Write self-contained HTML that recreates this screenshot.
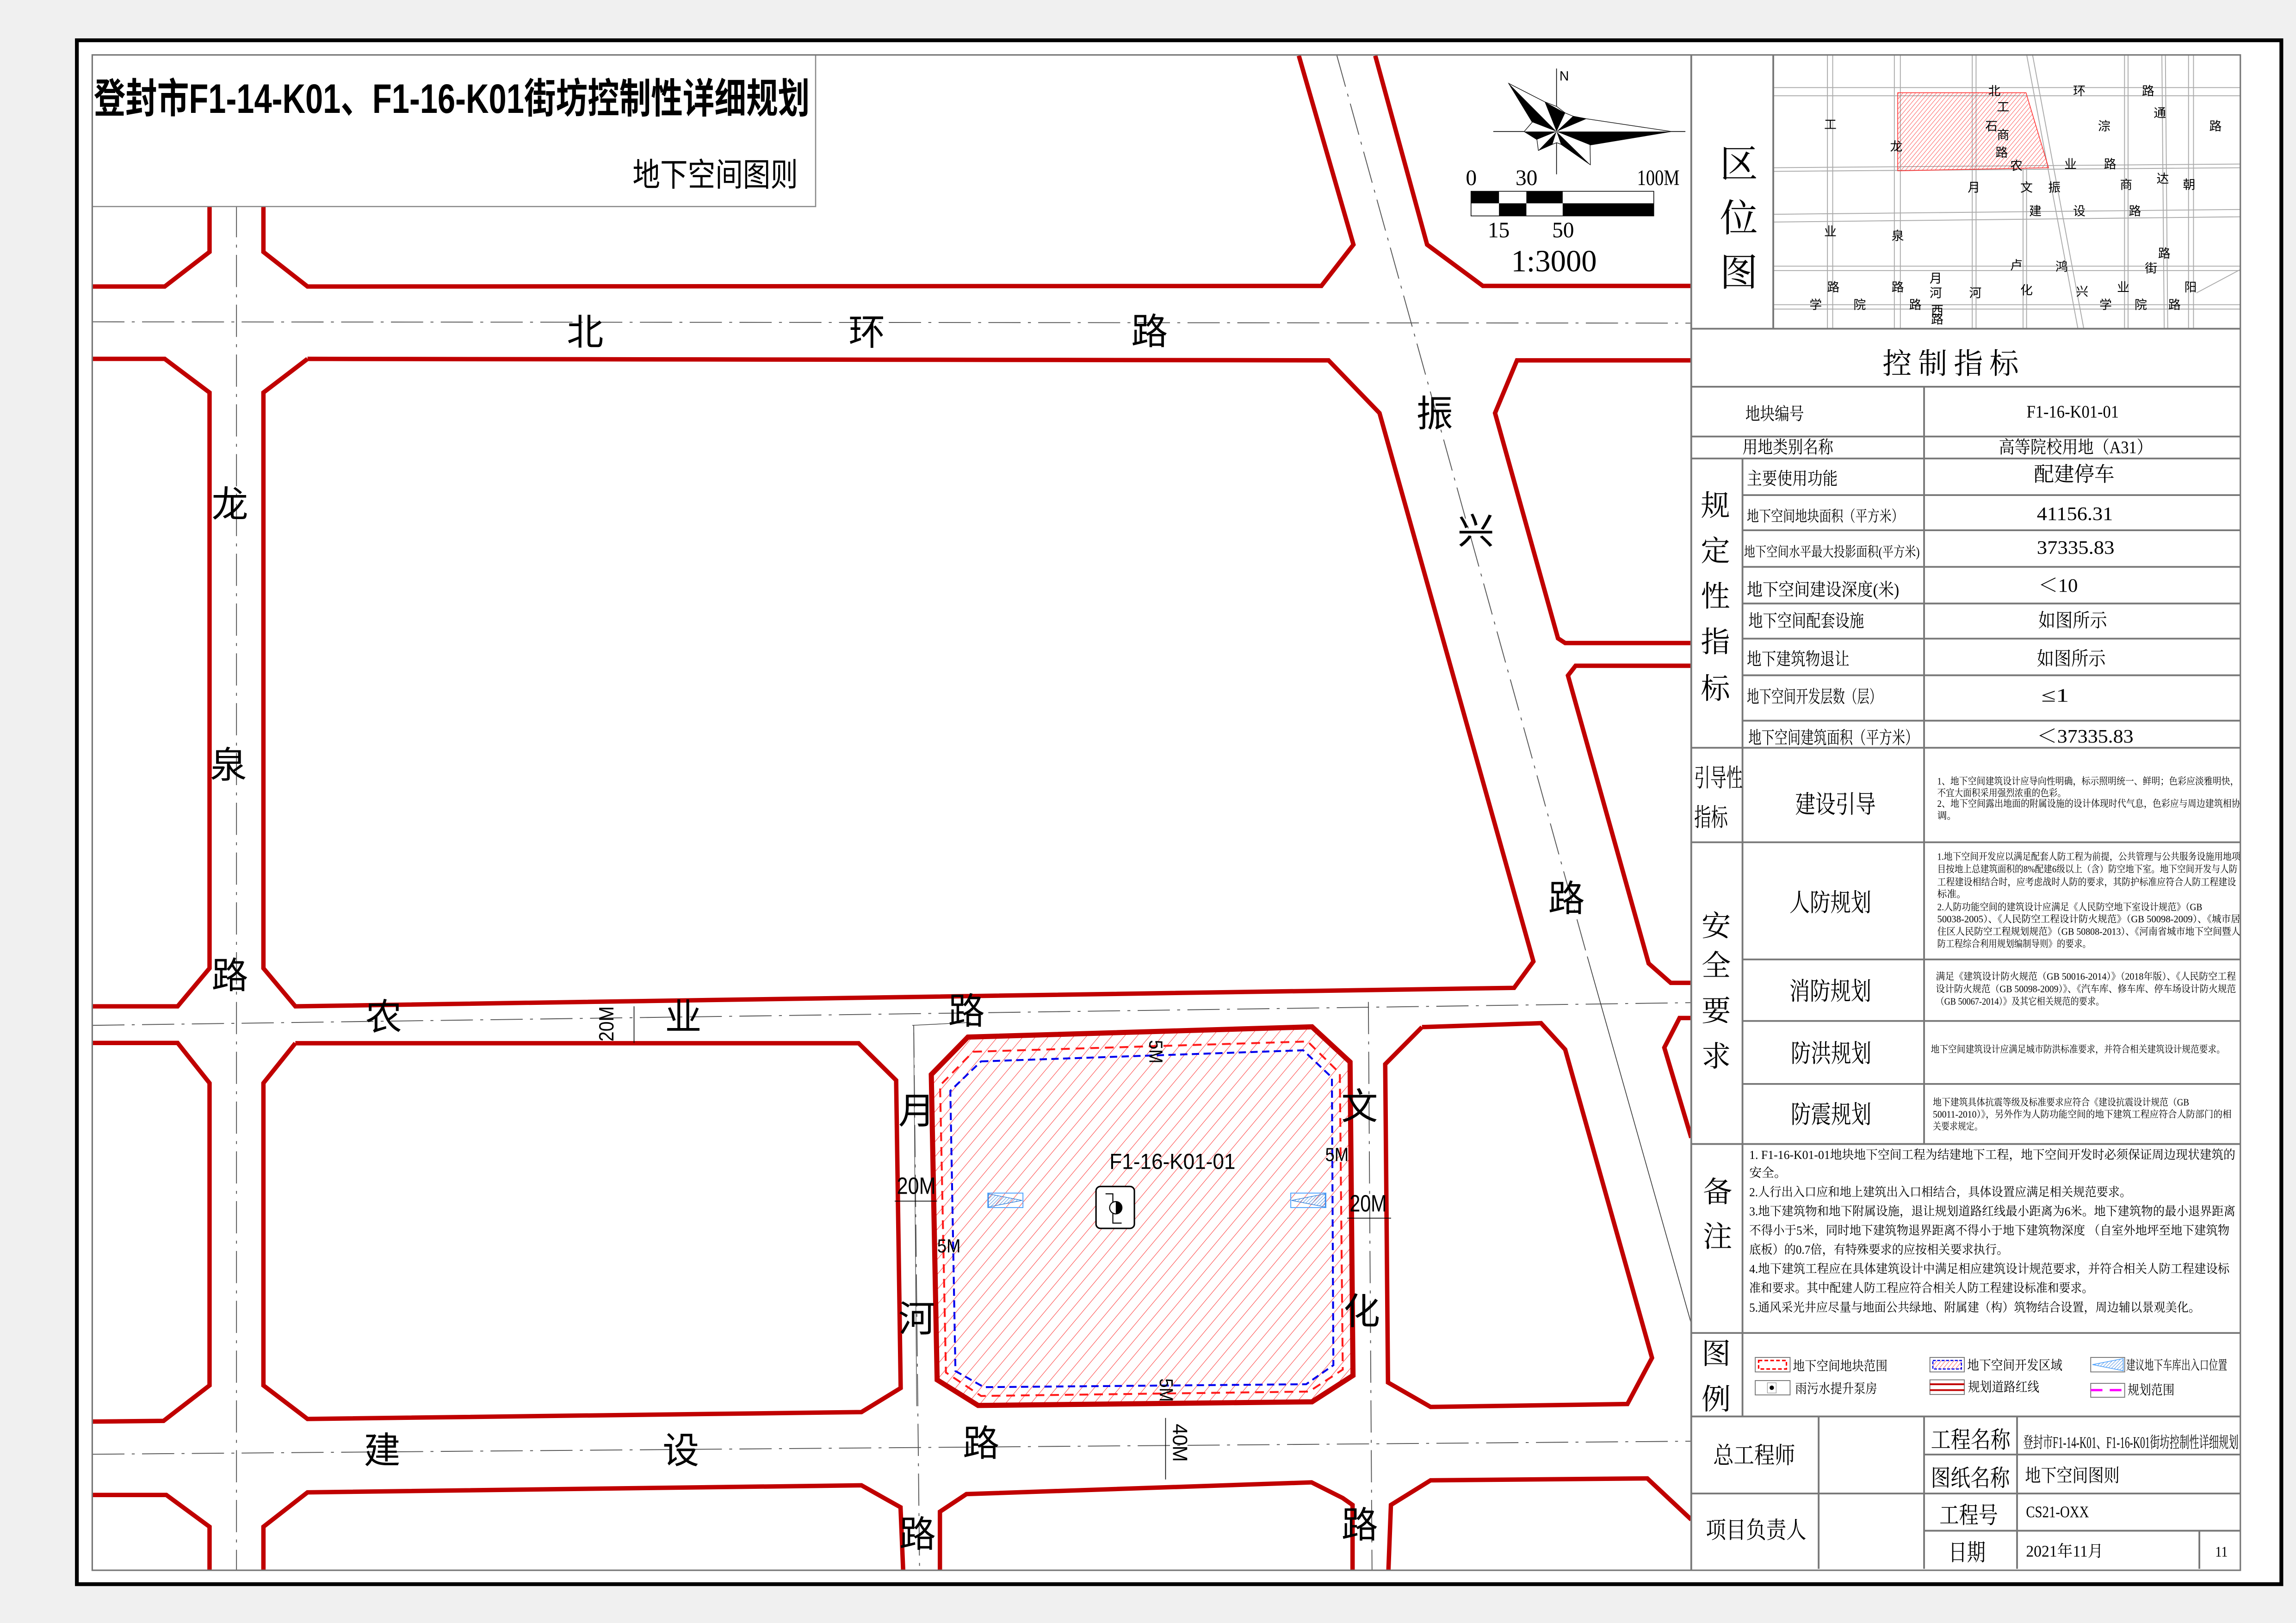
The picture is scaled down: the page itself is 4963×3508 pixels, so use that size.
<!DOCTYPE html>
<html><head><meta charset="utf-8"><style>
html,body{margin:0;padding:0;background:#f0f0f0;}
svg{display:block;}
.s{font-family:"Liberation Serif","Noto Serif CJK SC",serif;fill:#000;}
.h{font-family:"Liberation Sans","Noto Sans CJK SC",sans-serif;fill:#000;}
.rd{fill:none;stroke:#c00000;stroke-width:3;stroke-linejoin:miter;}
.cl{fill:none;stroke:#555;stroke-width:0.6;stroke-dasharray:22 5 2 5;}
.tl{stroke:#777;stroke-width:1.2;fill:none;}
.mm{stroke:#aaa;stroke-width:0.6;fill:none;}
</style></head><body>
<svg width="4963" height="3508" viewBox="0 0 1568 1108" preserveAspectRatio="none" xmlns="http://www.w3.org/2000/svg">
<defs>
<pattern id="hat" patternUnits="userSpaceOnUse" width="6.6" height="6.6" patternTransform="rotate(40)">
<line x1="0" y1="0" x2="0" y2="6.6" stroke="#ff3030" stroke-width="0.6"/>
</pattern>
<pattern id="hat2" patternUnits="userSpaceOnUse" width="2.2" height="2.2" patternTransform="rotate(40)">
<line x1="0" y1="0" x2="0" y2="2.2" stroke="#ff3030" stroke-width="0.5"/>
</pattern>
<pattern id="bh" patternUnits="userSpaceOnUse" width="1.6" height="1.6" patternTransform="rotate(45)">
<line x1="0" y1="0" x2="0" y2="1.6" stroke="#2a7ad8" stroke-width="0.5"/>
</pattern>
<clipPath id="mapc"><rect x="63" y="37.5" width="1092" height="1034.5"/></clipPath>
</defs>

<rect x="52.5" y="27.5" width="1505.5" height="1054" fill="#fff"/>

<g clip-path="url(#mapc)">
<!-- centerlines -->
<line class="cl" x1="63" y1="219.7" x2="1155" y2="220.6"/>
<line class="cl" x1="63" y1="700" x2="1155" y2="684.5"/>
<line class="cl" x1="63" y1="992.8" x2="1155" y2="983.9"/>
<line class="cl" x1="161.5" y1="140" x2="161.5" y2="1072"/>
<line class="cl" x1="624" y1="700" x2="628" y2="1072"/>
<line class="cl" x1="934.5" y1="684" x2="937" y2="1072"/>
<line class="cl" x1="913" y1="38" x2="1084" y2="653"/>
<line x1="1084" y1="653" x2="1155" y2="903.6" stroke="#333" stroke-width="0.5"/>
<line x1="623" y1="700" x2="663" y2="698" stroke="#333" stroke-width="0.4"/>
<line x1="624" y1="705" x2="626" y2="960" stroke="#444" stroke-width="0.4"/>
<!-- road red lines -->
<polyline class="rd" points="63,195.6 112.5,195.6 143.1,172 143.1,140"/>
<polyline class="rd" points="179.9,140 179.9,172 210,195.6 902.4,195.2 924.3,167 887,38"/>
<polyline class="rd" points="939.2,38 974.6,167 1012.7,195.2 1155,195.2"/>
<polyline class="rd" points="63,245 112.5,245 143.1,268 143.1,661 121.3,687 63,687"/>
<polyline class="rd" points="210,245 907.3,246 942.1,282 1047.2,656.4 1034,674.4 201.7,687 179.9,661 179.9,268 210,245"/>
<polyline class="rd" points="1155,246 1036,246 1021,282 1064,435.8 1068.9,439 1155,439"/>
<polyline class="rd" points="1155,454.5 1076,454.5 1070.8,461.2 1125.9,657.7 1141,671 1155,671"/>
<polyline class="rd" points="63,712 121.3,712 143.1,739.4 143.1,945.8 111.7,970 63,970.5"/>
<polyline class="rd" points="201.7,712.2 586.4,712.2 612,737.5 615.1,947.6 588.3,964 210,968.7 179.9,945.8 179.9,739.4 201.7,712.2"/>
<polyline class="rd" points="971.1,701.2 1052.4,698.5 1068.9,716.5 1128.2,927 1111.4,958.5 977,960.5 947.9,943.8 946,726.5 971.1,701.2"/>
<polyline class="rd" points="1155,695 1147,695 1136.6,715.2 1155,776.7"/>
<polyline class="rd" points="63,1020.6 113.6,1020.6 143.1,1042.3 143.1,1077"/>
<polyline class="rd" points="179.9,1077 179.9,1042.3 210,1018.8 588.3,1014 615,1029 617,1077"/>
<polyline class="rd" points="641.9,1077 641.9,1032 660,1020 895.7,1012 917,1022.7 923.7,1027.4 923.7,1077"/>
<polyline class="rd" points="948,1077 949.9,1027.4 977,1010.6 1125,1009.3 1155,1037.4"/>
<!-- plot -->
<polygon points="661,708 896,701 922,725 924,939 896,957 668,959.5 640,942 636,733.6" fill="url(#hat)" stroke="#c00000" stroke-width="3.5"/>
<polygon points="664.6,718 893,711 915,732.7 917,935 894,950 670,953 646,937 642,741" fill="none" stroke="#ff1a1a" stroke-width="1.3" stroke-dasharray="6 4"/>
<polygon points="670,724.6 890,717 909.6,735.6 910.6,932 892,945 672,947 652.5,936 649,744.7" fill="none" stroke="#0000ee" stroke-width="1.3" stroke-dasharray="5 3"/>
<!-- entrances -->
<rect x="674.6" y="814.5" width="24" height="9.9" fill="none" stroke="#4aa0ff" stroke-width="0.6"/>
<polygon points="675,815 698,819.5 675,824" fill="url(#bh)" stroke="#2a7ad8" stroke-width="0.4"/>
<rect x="881.5" y="814.5" width="24" height="9.9" fill="none" stroke="#4aa0ff" stroke-width="0.6"/>
<polygon points="905,815 882,819.5 905,824" fill="url(#bh)" stroke="#2a7ad8" stroke-width="0.4"/>
<!-- pump -->
<rect x="748.5" y="810" width="26.2" height="28.6" rx="3" fill="#fff" stroke="#000" stroke-width="1"/>
<polyline points="755,815 760,815 760,835 766,835" fill="none" stroke="#000" stroke-width="0.7"/>
<circle cx="762" cy="824.5" r="4.2" fill="#fff" stroke="#000" stroke-width="0.7"/>
<path d="M762,820.3 A4.2,4.2 0 0 1 762,828.7 Z" fill="#000"/>
<text class="h" x="757.7" y="798" font-size="15" textLength="86" lengthAdjust="spacingAndGlyphs">F1-16-K01-01</text>
<!-- dimensions -->
<text class="h" x="0" y="0" font-size="13" transform="translate(785,710) rotate(90)" textLength="16" lengthAdjust="spacingAndGlyphs">5M</text>
<text class="h" x="0" y="0" font-size="13" transform="translate(792,941) rotate(90)" textLength="16" lengthAdjust="spacingAndGlyphs">5M</text>
<text class="h" x="905" y="792.7" font-size="13" textLength="16" lengthAdjust="spacingAndGlyphs">5M</text>
<text class="h" x="640" y="855" font-size="13" textLength="16" lengthAdjust="spacingAndGlyphs">5M</text>
<text class="h" x="612.5" y="815" font-size="16" textLength="26.5" lengthAdjust="spacingAndGlyphs">20M</text>
<line x1="611" y1="820" x2="640" y2="820" stroke="#000" stroke-width="0.5"/>
<text class="h" x="921.7" y="827" font-size="16" textLength="25.3" lengthAdjust="spacingAndGlyphs">20M</text>
<line x1="920" y1="831.6" x2="950" y2="831.6" stroke="#000" stroke-width="0.5"/>
<text class="h" x="0" y="0" font-size="14" transform="translate(419,711) rotate(-90)" textLength="24" lengthAdjust="spacingAndGlyphs">20M</text>
<line x1="433" y1="687" x2="433" y2="712" stroke="#000" stroke-width="0.5"/>
<text class="h" x="0" y="0" font-size="14" transform="translate(801,972) rotate(90)" textLength="26" lengthAdjust="spacingAndGlyphs">40M</text>
<line x1="796" y1="968" x2="796" y2="1010" stroke="#000" stroke-width="0.5"/>
<!-- road names -->
<g class="h" font-size="25" text-anchor="middle">
<text x="399.6" y="235.4">北</text><text x="592" y="235.4">环</text><text x="785" y="235">路</text>
<text x="157" y="353">龙</text><text x="156" y="531">泉</text><text x="157" y="674.7">路</text>
<text x="262" y="703">农</text><text x="466.6" y="703">业</text><text x="660" y="699">路</text>
<text x="261" y="998.8">建</text><text x="465" y="998.8">设</text><text x="670" y="994">路</text>
<text x="626.6" y="1056">路</text>
<text x="626" y="767">月</text><text x="626" y="909">河</text>
<text x="928.5" y="764">文</text><text x="930" y="904">化</text>
<text x="979.8" y="291">振</text><text x="1007.9" y="371.3">兴</text><text x="1069.8" y="622">路</text>
<text x="928.6" y="1049.7">路</text>
</g>
</g>

<!-- title box -->
<rect x="63" y="37.5" width="494" height="103.5" fill="#fff" stroke="#888" stroke-width="0.8"/>
<text class="h" x="64" y="77" font-size="28" font-weight="bold" textLength="489" lengthAdjust="spacingAndGlyphs">登封市F1-14-K01、F1-16-K01街坊控制性详细规划</text>
<text class="h" x="432" y="127" font-size="22" textLength="113" lengthAdjust="spacingAndGlyphs">地下空间图则</text>

<!-- compass -->
<line x1="1063" y1="46.8" x2="1063" y2="119" stroke="#000" stroke-width="0.5"/>
<line x1="1019.8" y1="89.8" x2="1151" y2="89.8" stroke="#000" stroke-width="0.5"/>
<polygon points="1030.3,56.9 1054.9,69.5 1063.1,72.7 1068.9,77.1 1074.2,79.3 1083.5,81.1 1141.4,89.8 1085.9,99 1086.1,112.5 1066,98.5 1063.1,97.4 1060.2,98.5 1050.6,102.7 1049.6,95.3 1040.9,89.8 1046.4,83.4" fill="#fff" stroke="#000" stroke-width="0.4"/>
<g fill="#000">
<polygon points="1063,89.8 1030.3,56.9 1046.4,83.4"/>
<polygon points="1063,89.8 1054.9,69.5 1068.9,77.1"/>
<polygon points="1063,89.8 1074.2,79.3 1083.5,81.1"/>
<polygon points="1063,89.8 1141.4,89.8 1085.9,99"/>
<polygon points="1063,89.8 1086.1,112.5 1066,98.5"/>
<polygon points="1063,89.8 1050.6,102.7 1060.2,98.5"/>
<polygon points="1063,89.8 1040.9,89.8 1049.6,95.3"/>
</g>
<text class="h" x="1065" y="55" font-size="9">N</text>
<rect x="1004.6" y="130.6" width="124.8" height="16.8" fill="#fff" stroke="#000" stroke-width="0.5"/>
<rect x="1004.6" y="130.6" width="19.1" height="8.2" fill="#000"/>
<rect x="1042.4" y="130.6" width="24.8" height="8.2" fill="#000"/>
<rect x="1023.7" y="138.8" width="18.7" height="8.6" fill="#000"/>
<rect x="1067.2" y="138.8" width="62.2" height="8.6" fill="#000"/>
<g class="s" font-size="15">
<text x="1001" y="126.4">0</text><text x="1035" y="126.4">30</text><text x="1118" y="126.4" textLength="29" lengthAdjust="spacingAndGlyphs">100M</text>
<text x="1016" y="162">15</text><text x="1060" y="162">50</text>
</g>
<text class="s" x="1032" y="185.3" font-size="21" textLength="58.5" lengthAdjust="spacingAndGlyphs">1:3000</text>

<!-- right panel -->
<rect x="1155" y="37.5" width="375" height="1034" fill="#fff"/>
<!-- mini map -->
<g>
<g class="mm">
<line x1="1211" y1="59.8" x2="1530" y2="59.8"/><line x1="1211" y1="65.4" x2="1530" y2="65.4"/>
<line x1="1211" y1="114.5" x2="1530" y2="112"/><line x1="1211" y1="117" x2="1530" y2="114.5"/>
<line x1="1211" y1="146.3" x2="1530" y2="143"/><line x1="1211" y1="151.6" x2="1530" y2="148"/>
<line x1="1211" y1="181.7" x2="1530" y2="181.7"/><line x1="1211" y1="184.7" x2="1530" y2="184.7"/>
<line x1="1211" y1="208" x2="1530" y2="208"/><line x1="1211" y1="211" x2="1530" y2="211"/>
<line x1="1248" y1="37.5" x2="1248" y2="224"/><line x1="1251.6" y1="37.5" x2="1251.6" y2="224"/>
<line x1="1293.7" y1="37.5" x2="1293.7" y2="224"/><line x1="1297.8" y1="37.5" x2="1297.8" y2="224"/>
<line x1="1346.9" y1="37.5" x2="1346.9" y2="224"/><line x1="1349.5" y1="37.5" x2="1349.5" y2="224"/>
<line x1="1381.6" y1="115" x2="1381.6" y2="224"/><line x1="1384" y1="115" x2="1384" y2="224"/>
<line x1="1450.9" y1="37.5" x2="1450.9" y2="224"/><line x1="1453.3" y1="37.5" x2="1453.3" y2="224"/>
<line x1="1476.4" y1="37.5" x2="1478" y2="224"/><line x1="1478.8" y1="37.5" x2="1480.4" y2="224"/>
<line x1="1494.6" y1="37.5" x2="1494.6" y2="224"/><line x1="1498" y1="37.5" x2="1498" y2="224"/>
<line x1="1384" y1="37" x2="1419" y2="224"/><line x1="1388" y1="37" x2="1423" y2="224"/>
<line x1="1500" y1="200" x2="1530" y2="184"/>
</g>
<polygon points="1296,63.3 1383.6,63.3 1399,114.5 1296,116.6" fill="url(#hat2)" stroke="#ff3030" stroke-width="0.5"/>
<g class="h" font-size="8.5" text-anchor="middle">
<text x="1362" y="65">北</text><text x="1368" y="76">工</text><text x="1360" y="89">石</text><text x="1368" y="95">商</text><text x="1367" y="107">路</text><text x="1377" y="116">农</text>
<text x="1295" y="103">龙</text><text x="1250" y="88">工</text><text x="1420" y="65">环</text><text x="1467" y="65">路</text><text x="1475" y="80">通</text>
<text x="1437" y="89">淙</text><text x="1513" y="89">路</text><text x="1414" y="115">业</text><text x="1441" y="115">路</text>
<text x="1348" y="131">月</text><text x="1384" y="131">文</text><text x="1403" y="131">振</text><text x="1452" y="129">商</text><text x="1477" y="125">达</text><text x="1495" y="129">朝</text>
<text x="1390" y="147">建</text><text x="1420" y="147">设</text><text x="1458" y="147">路</text>
<text x="1250" y="161">业</text><text x="1296" y="164">泉</text><text x="1478" y="176">路</text>
<text x="1377" y="184">卢</text><text x="1408" y="185">鸿</text><text x="1469" y="186">街</text><text x="1322" y="193">月</text>
<text x="1252" y="199">路</text><text x="1296" y="199">路</text><text x="1322" y="203">河</text><text x="1349" y="203">河</text><text x="1384" y="201">化</text><text x="1422" y="202">兴</text><text x="1450" y="199">业</text><text x="1496" y="199">阳</text>
<text x="1240" y="211">学</text><text x="1270" y="211">院</text><text x="1308" y="211">路</text><text x="1323" y="215">西</text><text x="1438" y="211">学</text><text x="1462" y="211">院</text><text x="1485" y="211">路</text><text x="1323" y="221">路</text>
</g>
</g>
<g class="s" font-size="26" text-anchor="middle">
<text x="1187.5" y="121">区</text><text x="1187.5" y="158">位</text><text x="1187.5" y="195">图</text>
</g>

<!-- table lines -->
<g class="tl">
<line x1="1211" y1="37.5" x2="1211" y2="224.4"/>
<line x1="1155" y1="224.4" x2="1530" y2="224.4"/>
<line x1="1155" y1="264" x2="1530" y2="264"/>
<line x1="1155" y1="298" x2="1530" y2="298"/>
<line x1="1155" y1="313" x2="1530" y2="313"/>
<line x1="1190" y1="338" x2="1530" y2="338"/>
<line x1="1190" y1="362" x2="1530" y2="362"/>
<line x1="1190" y1="387" x2="1530" y2="387"/>
<line x1="1190" y1="412" x2="1530" y2="412"/>
<line x1="1190" y1="436" x2="1530" y2="436"/>
<line x1="1190" y1="461" x2="1530" y2="461"/>
<line x1="1190" y1="492" x2="1530" y2="492"/>
<line x1="1155" y1="510.5" x2="1530" y2="510.5"/>
<line x1="1155" y1="575" x2="1530" y2="575"/>
<line x1="1190" y1="655" x2="1530" y2="655"/>
<line x1="1190" y1="697" x2="1530" y2="697"/>
<line x1="1190" y1="740" x2="1530" y2="740"/>
<line x1="1155" y1="781" x2="1530" y2="781"/>
<line x1="1155" y1="910" x2="1530" y2="910"/>
<line x1="1155" y1="967" x2="1530" y2="967"/>
<line x1="1314" y1="993" x2="1530" y2="993"/>
<line x1="1155" y1="1019.6" x2="1530" y2="1019.6"/>
<line x1="1314" y1="1045" x2="1530" y2="1045"/>
<line x1="1190" y1="313" x2="1190" y2="967"/>
<line x1="1314" y1="264" x2="1314" y2="781"/>
<line x1="1242" y1="967" x2="1242" y2="1071"/>
<line x1="1314" y1="967" x2="1314" y2="1071"/>
<line x1="1377.5" y1="967" x2="1377.5" y2="1071"/>
<line x1="1502" y1="1045" x2="1502" y2="1071"/>
<line x1="1155" y1="37.5" x2="1155" y2="1072"/>
</g>

<text class="s" x="1285.6" y="255" font-size="20" textLength="93" lengthAdjust="spacing">控制指标</text>
<g class="s" font-size="12">
<text x="1192" y="286.6" textLength="40" lengthAdjust="spacingAndGlyphs">地块编号</text>
<text x="1190" y="309.3" textLength="62" lengthAdjust="spacingAndGlyphs">用地类别名称</text>
<text x="1193" y="330.8" textLength="62" lengthAdjust="spacingAndGlyphs">主要使用功能</text>
<text x="1193" y="356" font-size="10.5" textLength="107" lengthAdjust="spacingAndGlyphs">地下空间地块面积（平方米）</text>
<text x="1191" y="380" font-size="9.5" textLength="120" lengthAdjust="spacingAndGlyphs">地下空间水平最大投影面积(平方米)</text>
<text x="1193" y="406.6" textLength="104" lengthAdjust="spacingAndGlyphs">地下空间建设深度(米)</text>
<text x="1194" y="428" textLength="79" lengthAdjust="spacingAndGlyphs">地下空间配套设施</text>
<text x="1193" y="454" textLength="70" lengthAdjust="spacingAndGlyphs">地下建筑物退让</text>
<text x="1193" y="479.8" textLength="92" lengthAdjust="spacingAndGlyphs">地下空间开发层数（层）</text>
<text x="1194" y="507.7" textLength="116" lengthAdjust="spacingAndGlyphs">地下空间建筑面积（平方米）</text>
</g>
<g class="s" font-size="12">
<text x="1384" y="285" textLength="63" lengthAdjust="spacingAndGlyphs">F1-16-K01-01</text>
<text x="1365" y="309.3" textLength="105" lengthAdjust="spacingAndGlyphs">高等院校用地（A31）</text>
<text x="1389" y="328.5" font-size="14" textLength="55" lengthAdjust="spacingAndGlyphs">配建停车</text>
<text x="1391" y="355" font-size="13" textLength="52" lengthAdjust="spacingAndGlyphs">41156.31</text>
<text x="1391" y="378" font-size="13" textLength="53" lengthAdjust="spacingAndGlyphs">37335.83</text>
<text x="1392" y="404" font-size="13" textLength="27" lengthAdjust="spacingAndGlyphs">＜10</text>
<text x="1392" y="428" font-size="13" textLength="47" lengthAdjust="spacingAndGlyphs">如图所示</text>
<text x="1391" y="454" font-size="13" textLength="47" lengthAdjust="spacingAndGlyphs">如图所示</text>
<text x="1394" y="479" font-size="13" textLength="19" lengthAdjust="spacingAndGlyphs">≤1</text>
<text x="1391" y="507" font-size="13" textLength="66" lengthAdjust="spacingAndGlyphs">＜37335.83</text>
</g>
<g class="s" font-size="20" text-anchor="middle">
<text x="1171.5" y="352">规</text><text x="1171.5" y="383">定</text><text x="1171.5" y="414">性</text><text x="1171.5" y="445">指</text><text x="1171.5" y="477">标</text>
<text x="1172" y="639">安</text><text x="1172" y="666">全</text><text x="1172" y="697">要</text><text x="1172" y="728">求</text>
<text x="1173" y="820.5">备</text><text x="1173" y="851">注</text>
<text x="1172" y="931">图</text><text x="1172" y="962">例</text>
</g>
<text class="s" x="1157" y="537" font-size="17" textLength="33" lengthAdjust="spacingAndGlyphs">引导性</text>
<text class="s" x="1157" y="564" font-size="17" textLength="23" lengthAdjust="spacingAndGlyphs">指标</text>
<g class="s" font-size="17">
<text x="1226" y="555" textLength="55" lengthAdjust="spacingAndGlyphs">建设引导</text>
<text x="1222" y="622" textLength="56" lengthAdjust="spacingAndGlyphs">人防规划</text>
<text x="1222" y="682.5" textLength="56" lengthAdjust="spacingAndGlyphs">消防规划</text>
<text x="1223" y="725" textLength="55" lengthAdjust="spacingAndGlyphs">防洪规划</text>
<text x="1223" y="766.7" textLength="55" lengthAdjust="spacingAndGlyphs">防震规划</text>
</g>
<g class="s" font-size="6.6">
<text x="1323" y="535.5" textLength="206" lengthAdjust="spacingAndGlyphs">1、地下空间建筑设计应导向性明确，标示照明统一、鲜明；色彩应淡雅明快，</text>
<text x="1323" y="543.6" textLength="88" lengthAdjust="spacingAndGlyphs">不宜大面积采用强烈浓重的色彩。</text>
<text x="1323" y="550.9" textLength="207" lengthAdjust="spacingAndGlyphs">2、地下空间露出地面的附属设施的设计体现时代气息，色彩应与周边建筑相协</text>
<text x="1323" y="559">调。</text>
<text x="1323" y="587" textLength="207" lengthAdjust="spacingAndGlyphs">1.地下空间开发应以满足配套人防工程为前提，公共管理与公共服务设施用地项</text>
<text x="1323" y="595.6" textLength="205" lengthAdjust="spacingAndGlyphs">目按地上总建筑面积的8%配建6级以上（含）防空地下室。地下空间开发与人防</text>
<text x="1323" y="604.4" textLength="204" lengthAdjust="spacingAndGlyphs">工程建设相结合时，应考虑战时人防的要求，其防护标准应符合人防工程建设</text>
<text x="1323" y="612.6">标准。</text>
<text x="1323" y="621.5" textLength="181" lengthAdjust="spacingAndGlyphs">2.人防功能空间的建筑设计应满足《人民防空地下室设计规范》（GB</text>
<text x="1323" y="629.7" textLength="207" lengthAdjust="spacingAndGlyphs">50038-2005）、《人民防空工程设计防火规范》（GB 50098-2009）、《城市居</text>
<text x="1323" y="638.2" textLength="207" lengthAdjust="spacingAndGlyphs">住区人民防空工程规划规范》（GB 50808-2013）、《河南省城市地下空间暨人</text>
<text x="1323" y="646.6" textLength="105" lengthAdjust="spacingAndGlyphs">防工程综合利用规划编制导则》的要求。</text>
<text x="1322" y="668.8" textLength="205" lengthAdjust="spacingAndGlyphs">满足《建筑设计防火规范（GB 50016-2014）》（2018年版）、《人民防空工程</text>
<text x="1322" y="677.4" textLength="205" lengthAdjust="spacingAndGlyphs">设计防火规范（GB 50098-2009）》、《汽车库、修车库、停车场设计防火规范</text>
<text x="1322" y="685.9" textLength="115" lengthAdjust="spacingAndGlyphs">（GB 50067-2014）》及其它相关规范的要求。</text>
<text x="1318.6" y="718.6" textLength="201" lengthAdjust="spacingAndGlyphs">地下空间建筑设计应满足城市防洪标准要求，并符合相关建筑设计规范要求。</text>
<text x="1320" y="754.8" textLength="175" lengthAdjust="spacingAndGlyphs">地下建筑具体抗震等级及标准要求应符合《建设抗震设计规范（GB</text>
<text x="1320" y="763" textLength="204" lengthAdjust="spacingAndGlyphs">50011-2010）》，另外作为人防功能空间的地下建筑工程应符合人防部门的相</text>
<text x="1320" y="771.2" textLength="34" lengthAdjust="spacingAndGlyphs">关要求规定。</text>
</g>
<g class="s" font-size="8.5">
<text x="1194.6" y="791.2" textLength="332" lengthAdjust="spacingAndGlyphs">1. F1-16-K01-01地块地下空间工程为结建地下工程，地下空间开发时必须保证周边现状建筑的</text>
<text x="1194.6" y="803.6">安全。</text>
<text x="1194.6" y="816.7" textLength="261" lengthAdjust="spacingAndGlyphs">2.人行出入口应和地上建筑出入口相结合，具体设置应满足相关规范要求。</text>
<text x="1194.6" y="829.8" textLength="332" lengthAdjust="spacingAndGlyphs">3.地下建筑物和地下附属设施，退让规划道路红线最小距离为6米。地下建筑物的最小退界距离</text>
<text x="1194.6" y="842.9" textLength="328" lengthAdjust="spacingAndGlyphs">不得小于5米，同时地下建筑物退界距离不得小于地下建筑物深度 （自室外地坪至地下建筑物</text>
<text x="1194.6" y="856" textLength="177" lengthAdjust="spacingAndGlyphs">底板）的0.7倍，有特殊要求的应按相关要求执行。</text>
<text x="1194.6" y="869.1" textLength="328" lengthAdjust="spacingAndGlyphs">4.地下建筑工程应在具体建筑设计中满足相应建筑设计规范要求，并符合相关人防工程建设标</text>
<text x="1194.6" y="882.2" textLength="235" lengthAdjust="spacingAndGlyphs">准和要求。其中配建人防工程应符合相关人防工程建设标准和要求。</text>
<text x="1194.6" y="895.4" textLength="308" lengthAdjust="spacingAndGlyphs">5.通风采光井应尽量与地面公共绿地、附属建（构）筑物结合设置，周边辅以景观美化。</text>
</g>
<!-- legend -->
<g>
<rect x="1198.7" y="926.7" width="23.8" height="9.9" fill="#fff" stroke="#777" stroke-width="0.6"/>
<rect x="1201" y="928.8" width="19" height="5.8" fill="none" stroke="#f00" stroke-width="1" stroke-dasharray="2.5 1.5"/>
<rect x="1318" y="926.7" width="23.5" height="9.9" fill="#fff" stroke="#777" stroke-width="0.6"/>
<rect x="1320" y="928.8" width="19.5" height="5.8" fill="url(#hat2)" stroke="#00e" stroke-width="0.8" stroke-dasharray="2 1"/>
<rect x="1427.8" y="926.7" width="23.2" height="9.9" fill="#fff" stroke="#777" stroke-width="0.6"/>
<polygon points="1429,931.6 1450,927.5 1450,935.8" fill="url(#bh)" stroke="#4aa0ff" stroke-width="0.5"/>
<rect x="1198.7" y="942.5" width="23.8" height="9.8" fill="#fff" stroke="#777" stroke-width="0.6"/>
<rect x="1207" y="944" width="6" height="7" fill="none" stroke="#999" stroke-width="0.4"/>
<circle cx="1210" cy="947.4" r="1.5" fill="#000"/>
<rect x="1318" y="942" width="23.5" height="10" fill="#fff" stroke="#777" stroke-width="0.6"/>
<line x1="1318" y1="945" x2="1341.5" y2="945" stroke="#c00000" stroke-width="1.2"/>
<line x1="1318" y1="949" x2="1341.5" y2="949" stroke="#c00000" stroke-width="1.2"/>
<rect x="1427.8" y="944.4" width="23.2" height="9.5" fill="#fff" stroke="#777" stroke-width="0.6"/>
<line x1="1427.8" y1="949" x2="1451" y2="949" stroke="#f0f" stroke-width="1.6" stroke-dasharray="8 5"/>
<g class="s" font-size="9">
<text x="1224.4" y="935.5" textLength="64.6" lengthAdjust="spacingAndGlyphs">地下空间地块范围</text>
<text x="1343.5" y="935" textLength="65" lengthAdjust="spacingAndGlyphs">地下空间开发区域</text>
<text x="1452" y="935" textLength="69" lengthAdjust="spacingAndGlyphs">建议地下车库出入口位置</text>
<text x="1226" y="951" textLength="56" lengthAdjust="spacingAndGlyphs">雨污水提升泵房</text>
<text x="1344" y="950" textLength="48.7" lengthAdjust="spacingAndGlyphs">规划道路红线</text>
<text x="1453" y="952" textLength="32" lengthAdjust="spacingAndGlyphs">规划范围</text>
</g>
</g>
<!-- title block -->
<g class="s">
<text x="1170" y="999" font-size="16" textLength="56" lengthAdjust="spacingAndGlyphs">总工程师</text>
<text x="1165" y="1050" font-size="16" textLength="68.6" lengthAdjust="spacingAndGlyphs">项目负责人</text>
<text x="1318.6" y="988.5" font-size="16" textLength="54.4" lengthAdjust="spacingAndGlyphs">工程名称</text>
<text x="1318.6" y="1014.5" font-size="16" textLength="54" lengthAdjust="spacingAndGlyphs">图纸名称</text>
<text x="1324.5" y="1040" font-size="16" textLength="40" lengthAdjust="spacingAndGlyphs">工程号</text>
<text x="1330.6" y="1065.3" font-size="16" textLength="25.4" lengthAdjust="spacingAndGlyphs">日期</text>
<text x="1381.7" y="988.5" font-size="11" textLength="147" lengthAdjust="spacingAndGlyphs">登封市F1-14-K01、F1-16-K01街坊控制性详细规划</text>
<text x="1383" y="1011.7" font-size="12.5" textLength="64.5" lengthAdjust="spacingAndGlyphs">地下空间图则</text>
<text x="1383.6" y="1035.8" font-size="11" textLength="43" lengthAdjust="spacingAndGlyphs">CS21-OXX</text>
<text x="1383.6" y="1062.6" font-size="11" textLength="52.8" lengthAdjust="spacingAndGlyphs">2021年11月</text>
<text x="1512.8" y="1062.6" font-size="10" textLength="8.6" lengthAdjust="spacingAndGlyphs">11</text>
</g>

<!-- frames -->
<rect x="63" y="37.5" width="1467" height="1034.5" fill="none" stroke="#777" stroke-width="1"/>
<rect x="52.5" y="27.5" width="1505.5" height="1054" fill="none" stroke="#000" stroke-width="2.6"/>
</svg>
</body></html>
